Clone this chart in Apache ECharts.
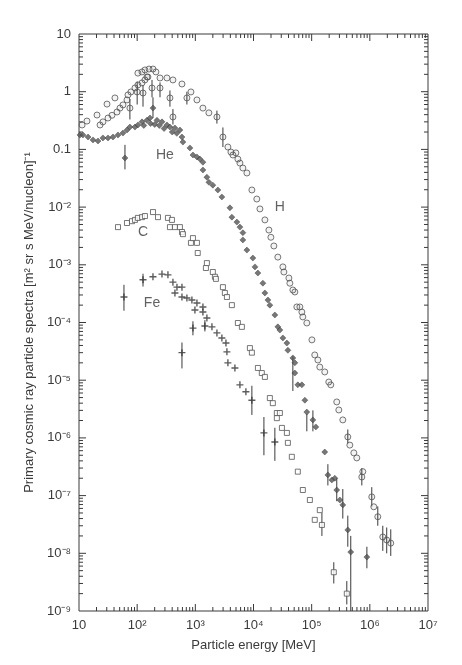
<!DOCTYPE html>
<html>
<head>
<meta charset="utf-8">
<script src="https://cdn.jsdelivr.net/npm/echarts@6/dist/echarts.min.js"></script>
<style>
  html, body { margin: 0; padding: 0; background: #fff; }
  #chart { width: 462px; height: 665px; }
</style>
</head>
<body>
<div id="chart"></div>
<script>
// [energy MeV, flux]
var hPoints = [
  [11.3, 0.265], [13.7, 0.31], [20.4, 0.394], [30.3, 0.61], [41.5, 0.78],
  [23, 0.265], [25.8, 0.30], [31.5, 0.35], [36.9, 0.39], [45, 0.445], [50.6, 0.52], [57, 0.59],
  [66.8, 0.72], [69.5, 0.88], [78, 0.99], [91.6, 1.16], [103, 1.31], [121, 1.42], [136, 1.6], [147, 1.8],
  [103, 2.1], [121, 2.2], [136, 2.38], [160, 2.47], [187, 2.47], [210, 2.2], [153, 1.8],
  [75, 0.52], [100, 0.99], [126, 0.95], [180, 1.16], [247, 1.16], [366, 0.78], [412, 0.365], [716, 0.78],
  [247, 1.73], [325, 1.73], [412, 1.6], [589, 1.36], [840, 0.99], [1065, 0.72], [1350, 0.52], [1710, 0.43],
  [2350, 0.365], [2980, 0.164], [3630, 0.110], [4090, 0.090], [4420, 0.080], [4980, 0.087], [5390, 0.068],
  [5840, 0.058], [6570, 0.0476], [7700, 0.039], [9380, 0.0198], [11400, 0.0138], [12900, 0.0093],
  [15700, 0.006], [18400, 0.004], [19900, 0.003], [22400, 0.00212], [26200, 0.00136], [32000, 9.2e-4],
  [33300, 7.5e-4], [40600, 5.9e-4], [42200, 4.8e-4], [47500, 3.66e-4], [51400, 3.38e-4], [55600, 1.86e-4],
  [62700, 1.86e-4], [67800, 1.52e-4], [70500, 1.25e-4], [82600, 9.8e-5], [1.01e5, 5.0e-5], [1.13e5, 2.74e-5],
  [1.28e5, 2.24e-5], [1.38e5, 1.69e-5], [1.68e5, 1.39e-5], [1.97e5, 9.3e-6], [2.13e5, 8.3e-6], [2.7e5, 4.2e-6],
  [2.93e5, 3.05e-6], [3.43e5, 2.05e-6], [4.18e5, 1.04e-6], [4.53e5, 7.5e-7], [5.31e5, 5.5e-7], [5.97e5, 4.5e-7],
  [7.28e5, 2.1e-7], [7.57e5, 2.6e-7], [1.08e6, 9.5e-8], [1.17e6, 6.4e-8], [1.37e6, 4.3e-8], [1.67e6, 1.92e-8],
  [1.95e6, 1.7e-8], [2.29e6, 1.5e-8]
]
var hePoints = [
  [10.4, 0.178], [11.7, 0.178], [14.3, 0.164], [17.4, 0.146], [21.2, 0.14], [25.8, 0.158], [31.5, 0.158],
  [38.4, 0.164], [46.8, 0.178], [57, 0.192], [66.8, 0.217], [75, 0.244], [91.6, 0.244], [103, 0.265],
  [121, 0.30], [130, 0.26], [147, 0.32], [166, 0.35], [170, 0.28], [187, 0.52], [200, 0.27], [219, 0.32],
  [240, 0.26], [267, 0.30], [290, 0.23], [325, 0.265], [366, 0.244], [400, 0.2], [446, 0.235], [480, 0.19],
  [543, 0.217], [589, 0.164], [612, 0.134], [61.7, 0.071],
  [807, 0.106], [910, 0.080], [1065, 0.074], [1200, 0.068], [1350, 0.060], [1350, 0.044], [1580, 0.033],
  [1710, 0.027], [2000, 0.024], [2440, 0.0198], [2860, 0.015], [3930, 0.0097], [4250, 0.0067], [5180, 0.0055],
  [5840, 0.0045], [6570, 0.0036], [6570, 0.0027], [7700, 0.0018], [9750, 0.00131], [10600, 9.2e-4],
  [11900, 7.2e-4], [14500, 4.8e-4], [15700, 3.25e-4], [17700, 2.45e-4], [19100, 2.0e-4], [23300, 1.35e-4],
  [26200, 8.4e-5], [28400, 7.4e-5], [32000, 5.4e-5], [37500, 4.4e-5], [39000, 3.3e-5], [47500, 2.43e-5],
  [51400, 2.0e-5], [51400, 1.33e-5], [57800, 8.3e-6], [67800, 8.3e-6], [76400, 4.5e-6], [82600, 2.8e-6],
  [1.05e5, 2.05e-6], [1.18e5, 1.55e-6], [1.68e5, 5.7e-7], [1.9e5, 2.28e-7], [2.22e5, 1.87e-7], [2.5e5, 2.0e-7],
  [2.7e5, 1.25e-7], [3.05e5, 8.4e-8], [3.43e5, 6.9e-8], [4.18e5, 2.54e-8], [4.7e5, 1.05e-8], [8.9e5, 8.6e-9]
]
var cPoints = [
  [46.8, 0.0045], [66.8, 0.0053], [81.5, 0.0057], [91.6, 0.006], [103, 0.0065], [121, 0.0067], [136, 0.0070],
  [187, 0.0082], [228, 0.0067], [338, 0.0065], [396, 0.006], [366, 0.0045], [446, 0.0045], [543, 0.0045],
  [589, 0.0037], [612, 0.0034], [840, 0.0024], [910, 0.0029], [1065, 0.0024], [1100, 0.0016], [1520, 8.8e-4],
  [1580, 0.00107], [2000, 7.5e-4], [2170, 6.2e-4], [2260, 5.7e-4], [2980, 4.1e-4], [3220, 3.25e-4],
  [3490, 2.77e-4], [4250, 2.0e-4], [5390, 9.8e-5], [6310, 8.4e-5], [8670, 3.6e-5], [9380, 3.0e-5],
  [11900, 1.63e-5], [13900, 1.33e-5], [15700, 1.14e-5], [19100, 4.9e-6], [21500, 4.0e-6], [25200, 2.7e-6],
  [28400, 2.7e-6], [25200, 2.2e-6], [30800, 1.49e-6], [37500, 1.22e-6], [39000, 8.2e-7], [45600, 4.7e-7],
  [57800, 2.6e-7], [70500, 1.25e-7], [93100, 8.4e-8], [1.13e5, 3.8e-8], [1.38e5, 5.6e-8], [1.5e5, 3.1e-8],
  [2.4e5, 4.7e-9], [4.02e5, 2.0e-9]
]
var fePoints = [
  [59.3, 2.77e-4], [126, 5.5e-4], [187, 6.2e-4], [267, 6.9e-4], [338, 6.7e-4], [412, 5.0e-4], [483, 4.1e-4],
  [589, 4.1e-4], [446, 3.25e-4], [589, 2.77e-4], [716, 2.66e-4], [873, 2.45e-4], [1065, 2.18e-4],
  [984, 1.65e-4], [1350, 1.86e-4], [1350, 1.52e-4], [1580, 1.2e-4], [910, 8.0e-5], [1460, 8.7e-5],
  [1930, 8.4e-5], [2350, 6.6e-5], [2860, 5.4e-5], [3360, 4.4e-5], [3490, 3.1e-5], [3630, 2.0e-5],
  [4790, 1.63e-5], [589, 3.0e-5], [5840, 8.3e-6], [7400, 6.3e-6], [9380, 4.5e-6], [15100, 1.22e-6],
  [23300, 8.5e-7]
]
// vertical error bars [energy, low, high]
var hErr = [
  [75, 0.33, 0.75], [100, 0.6, 1.5], [126, 0.55, 1.3], [180, 0.8, 1.6], [247, 0.8, 1.45], [366, 0.55, 1.05],
  [412, 0.27, 0.5], [716, 0.6, 1.0], [2350, 0.28, 0.47], [2980, 0.11, 0.24], [4.18e5, 8e-7, 1.4e-6],
  [7.28e5, 1.5e-7, 3e-7], [1.08e6, 6.5e-8, 1.4e-7], [1.37e6, 3e-8, 6.5e-8], [1.67e6, 1.1e-8, 3e-8],
  [1.95e6, 1e-8, 2.8e-8], [2.29e6, 9e-9, 2.6e-8]
]
var heErr = [
  [61.7, 0.045, 0.12], [187, 0.35, 0.8], [47500, 6.5e-6, 2.6e-5], [82600, 1.3e-6, 2.6e-6],
  [1.05e5, 1.3e-6, 3e-6], [1.9e5, 1.5e-7, 3.5e-7], [2.7e5, 8e-8, 2e-7], [3.43e5, 4e-8, 1.3e-7],
  [4.18e5, 1.3e-8, 4.5e-8], [4.7e5, 1e-9, 2e-8], [8.9e5, 5.5e-9, 1.3e-8]
]
var cErr = [[1.5e5, 2e-8, 5e-8], [2.4e5, 3e-9, 7e-9], [4.02e5, 1.3e-9, 3.3e-9]]
var feErr = [
  [59.3, 1.6e-4, 4.5e-4], [126, 4.2e-4, 7e-4], [589, 1.6e-5, 4.5e-5], [910, 6e-5, 1.05e-4],
  [1460, 7e-5, 1.1e-4], [9380, 2.5e-6, 8e-6], [15100, 5e-7, 2.3e-6], [23300, 4e-7, 1.5e-6]
]
// element labels inside the plot
var labelNames = ['He', 'H', 'C', 'Fe']
var labelEnergy = [300, 28400, 126, 180]
var labelFlux = [0.08, 0.01, 0.0037, 2.2e-4]

var SUP = { '-': '\u207b', '0': '\u2070', '1': '\u00b9', '2': '\u00b2', '3': '\u00b3', '4': '\u2074',
  '5': '\u2075', '6': '\u2076', '7': '\u2077', '8': '\u2078', '9': '\u2079' }
function powLabel(v) {
  var e = Math.round(Math.log10(v))
  if (e === 1) return '10'
  if (e === 0) return '1'
  if (e === -1) return '0.1'
  return '10' + String(e).split('').map(function (c) { return SUP[c] }).join('')
}

var ink = '#3a3a3a'

function errSeries(name, data) {
  return {
    name: name,
    type: 'custom',
    silent: true,
    data: data,
    encode: { x: 0, y: [1, 2] },
    renderItem: function (params, api) {
      var p1 = api.coord([api.value(0), api.value(1)])
      var p2 = api.coord([api.value(0), api.value(2)])
      return {
        type: 'line',
        shape: { x1: p1[0], y1: p1[1], x2: p2[0], y2: p2[1] },
        style: { stroke: ink, lineWidth: 1 }
      }
    },
    z: 3
  }
}

// log ticks on all four edges of the frame
function tickSeries() {
  return {
    type: 'custom',
    silent: true,
    data: [[100, 1]],
    renderItem: function (params, api) {
      var cs = params.coordSys
      var kids = []
      var d, m, len, p
      for (d = 1; d <= 6; d++) {
        for (m = 1; m <= 9; m++) {
          var xv = m * Math.pow(10, d)
          if (m === 1 && d === 1) continue
          len = m === 1 ? 7 : 4
          p = api.coord([xv, 1])[0]
          kids.push({ type: 'line', shape: { x1: p, y1: cs.y + cs.height, x2: p, y2: cs.y + cs.height - len }, style: { stroke: ink, lineWidth: 1 } })
          kids.push({ type: 'line', shape: { x1: p, y1: cs.y, x2: p, y2: cs.y + len }, style: { stroke: ink, lineWidth: 1 } })
        }
      }
      for (d = -9; d <= 0; d++) {
        for (m = 1; m <= 9; m++) {
          var yv = m * Math.pow(10, d)
          if (m === 1 && d === -9) continue
          len = m === 1 ? 7 : 4
          p = api.coord([100, yv])[1]
          kids.push({ type: 'line', shape: { x1: cs.x, y1: p, x2: cs.x + len, y2: p }, style: { stroke: ink, lineWidth: 1 } })
          kids.push({ type: 'line', shape: { x1: cs.x + cs.width, y1: p, x2: cs.x + cs.width - len, y2: p }, style: { stroke: ink, lineWidth: 1 } })
        }
      }
      return { type: 'group', children: kids }
    },
    z: 2
  }
}

var chart = echarts.init(document.getElementById('chart'))
var font = 'Liberation Sans, Arial, sans-serif'
chart.setOption({
  backgroundColor: '#fff',
  animation: false,
  textStyle: { fontFamily: font },
  grid: { left: 79, right: 34, top: 34, bottom: 54, show: true, borderColor: ink, borderWidth: 1 },
  xAxis: {
    type: 'log', logBase: 10, min: 10, max: 1e7, splitNumber: 6,
    axisLine: { show: false }, axisTick: { show: false }, splitLine: { show: false },
    axisLabel: { formatter: powLabel, color: ink, fontSize: 13, margin: 8 },
    name: 'Particle energy [MeV]', nameLocation: 'middle', nameGap: 28,
    nameTextStyle: { color: ink, fontSize: 13 }
  },
  yAxis: {
    type: 'log', logBase: 10, min: 1e-9, max: 10, splitNumber: 10,
    axisLine: { show: false }, axisTick: { show: false }, splitLine: { show: false },
    axisLabel: { formatter: powLabel, color: ink, fontSize: 13, margin: 8 },
    name: 'Primary cosmic ray particle spectra [m\u00b2 sr s MeV/nucleon]\u207b\u00b9',
    nameLocation: 'middle', nameGap: 40, nameRotate: 90,
    nameTextStyle: { color: ink, fontSize: 13 }
  },
  series: [
    tickSeries(),
    errSeries('H err', hErr),
    errSeries('He err', heErr),
    errSeries('C err', cErr),
    errSeries('Fe err', feErr),
    {
      name: 'H', type: 'scatter', data: hPoints, symbol: 'circle', symbolSize: 6,
      itemStyle: { color: 'rgba(0,0,0,0.06)', borderColor: '#555', borderWidth: 1 }, z: 4
    },
    {
      name: 'He', type: 'scatter', data: hePoints, symbol: 'diamond', symbolSize: 6,
      itemStyle: { color: '#555', borderColor: '#333', borderWidth: 0.5 }, z: 4
    },
    {
      name: 'C', type: 'scatter', data: cPoints, symbol: 'rect', symbolSize: 5,
      itemStyle: { color: '#fff', borderColor: '#555', borderWidth: 1 }, z: 4
    },
    {
      name: 'Fe', type: 'scatter', data: fePoints,
      symbol: 'path://M4,0h2v4h4v2h-4v4h-2v-4h-4v-2h4z', symbolSize: 7,
      itemStyle: { color: '#333' }, z: 4
    },
    {
      name: 'labels', type: 'scatter', symbolSize: 0, silent: true,
      data: labelNames.map(function (n, i) { return { name: n, value: [labelEnergy[i], labelFlux[i]] } }),
      label: { show: true, position: 'inside', formatter: '{b}', color: ink, fontSize: 14, fontFamily: font },
      z: 5
    }
  ]
})
</script>
</body>
</html>
